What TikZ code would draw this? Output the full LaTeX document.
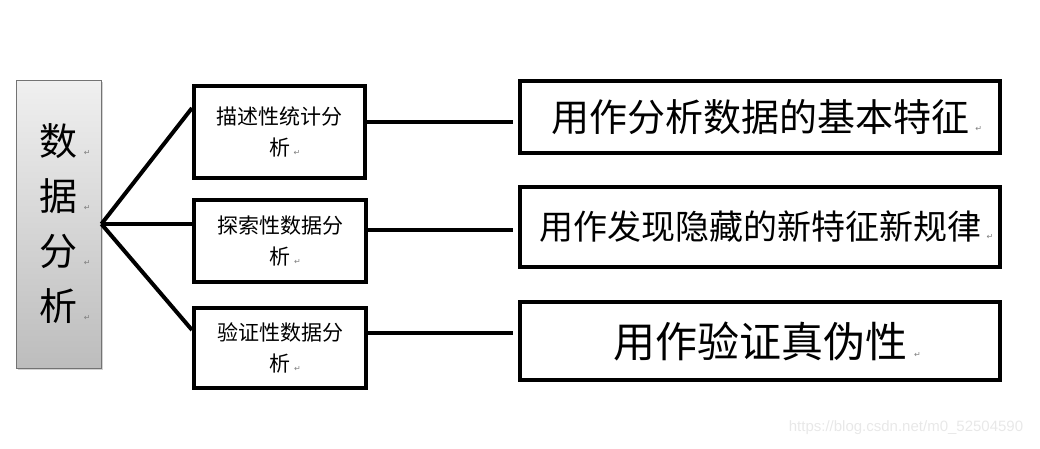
\documentclass[tikz,border=0pt]{standalone}
\usepackage{fontspec}
\setmainfont{Noto Sans CJK SC}
\newfontfamily\symf{DejaVu Sans}
\newfontfamily\wmfont{Liberation Sans}
\usetikzlibrary{shadows}
\newcommand{\rt}{\rlap{\,\symf\fontsize{8}{8}\selectfont\color{gray}↵}}
\tikzset{
  leftbox/.style={draw=black!55, line width=0.8pt, shading=axis, top color=black!6, bottom color=black!26,
    minimum width=85pt, minimum height=288pt, inner sep=0pt, align=center,
    drop shadow={shadow xshift=2pt, shadow yshift=-2pt, opacity=0.35}},
  midbox/.style={draw=black, line width=4pt, fill=white, inner sep=0pt, align=center,
    font=\fontsize{21}{31}\selectfont, text width=150pt},
  rightbox/.style={draw=black, line width=3.5pt, fill=white, inner sep=0pt, align=center,
    minimum width=480pt},
  conn/.style={draw=black, line width=4pt}
}
\begin{document}
\begin{tikzpicture}[x=1pt,y=-1pt]
\useasboundingbox (0,0) rectangle (1040,448);
\node[leftbox, font=\fontsize{38}{55}\selectfont] (L) at (58.5,224) {数\rt\\据\rt\\分\rt\\析\rt};

\node[midbox, minimum width=171pt, minimum height=92pt] (m1) at (279.5,132) {描述性统计分\\析\rt};
\node[midbox, minimum width=172pt, minimum height=82pt] (m2) at (280,241) {探索性数据分\\析\rt};
\node[midbox, minimum width=172pt, minimum height=80pt] (m3) at (280,348) {验证性数据分\\析\rt};

\node[rightbox, minimum height=72pt, font=\fontsize{38}{38}\selectfont] (r1) at (760,117) {用作分析数据的基本特征\rt};
\node[rightbox, minimum height=80pt, font=\fontsize{34}{34}\selectfont] (r2) at (760,227) {用作发现隐藏的新特征新规律\rt};
\node[rightbox, minimum height=78pt, font=\fontsize{42}{42}\selectfont] (r3) at (760,341) {用作验证真伪性\rt};

\draw[conn] (L.east) -- ([yshift=24pt]m1.west);
\draw[conn] (L.east) -- (L.east -| m2.west);
\draw[conn] (L.east) -- ([yshift=18pt]m3.west);

\coordinate (a1) at ([yshift=10pt]m1.east);
\coordinate (a2) at ([yshift=11pt]m2.east);
\coordinate (a3) at ([yshift=15pt]m3.east);
\draw[conn, shorten >=5pt] (a1) -- (a1 -| r1.west);
\draw[conn, shorten >=5pt] (a2) -- (a2 -| r2.west);
\draw[conn, shorten >=5pt] (a3) -- (a3 -| r3.west);

\node[text=black!9, font=\wmfont\fontsize{15}{15}\selectfont] (wm) at (906,428) {https://blog.csdn.net/m0\_52504590};
\end{tikzpicture}
\end{document}
